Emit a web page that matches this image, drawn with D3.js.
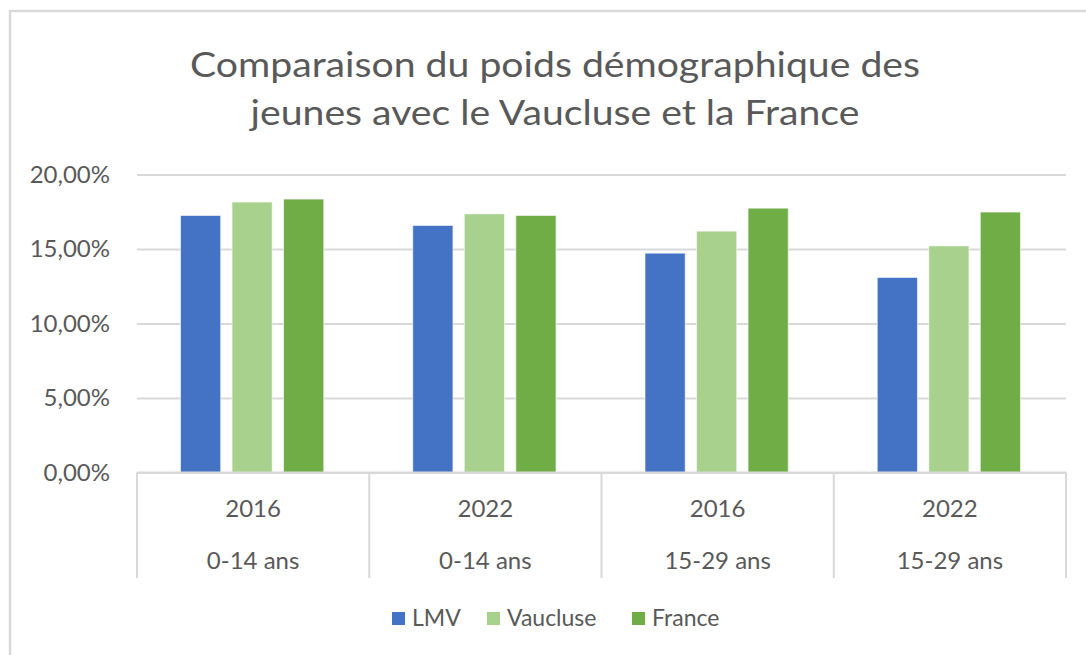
<!DOCTYPE html>
<html>
<head>
<meta charset="utf-8">
<script src="https://cdn.jsdelivr.net/npm/d3@7"></script>
<style>
  body { margin: 0; background: #fff; }
  text { font-family: Lato, "Open Sans", sans-serif; fill: #595959; }
</style>
</head>
<body>
<svg id="chart" width="1086" height="655"></svg>
<script>
// data
var years = ["2016", "2022", "2016", "2022"];
var ages = ["0-14 ans", "0-14 ans", "15-29 ans", "15-29 ans"];
var seriesNames = ["LMV", "Vaucluse", "France"];
var lmv = [17.25, 16.58, 14.72, 13.09];
var vaucluse = [18.15, 17.36, 16.20, 15.21];
var france = [18.35, 17.25, 17.74, 17.48];
var yTicks = [0, 5, 10, 15, 20];
var colors = ["#4472c4", "#a9d18e", "#70ad47"];

var values = [lmv, vaucluse, france];
var cats = d3.range(years.length);

var svg = d3.select("#chart");

// chart border (right and bottom edges are cut off in the reference)
svg.append("rect")
  .attr("x", 10).attr("y", 11)
  .attr("width", 1200).attr("height", 800)
  .attr("fill", "none")
  .attr("stroke", "#d9d9d9")
  .attr("stroke-width", 2.5);

// title is a bit wider than Lato, stretch it horizontally
var title = svg.append("text")
  .attr("text-anchor", "middle")
  .attr("font-size", 35)
  .attr("transform", "translate(555,0) scale(1.12,1)");
title.append("tspan").attr("x", 0).attr("y", 77)
  .text("Comparaison du poids démographique des");
title.append("tspan").attr("x", 0).attr("dy", 48)
  .text("jeunes avec le Vaucluse et la France");

var x0 = d3.scaleBand().domain(cats).range([137, 1066]).padding(0);
var x1 = d3.scaleBand().domain(seriesNames)
  .range([43.5, x0.bandwidth() - 45.5])
  .paddingInner(0.22).paddingOuter(0);
var y = d3.scaleLinear().domain([0, 20]).range([472.5, 174.5]);

// gridlines
svg.append("g")
  .attr("transform", "translate(137,0)")
  .call(d3.axisLeft(y).tickValues(yTicks).tickSize(-929).tickFormat(""))
  .call(function(g) { g.select(".domain").remove(); })
  .selectAll("line")
  .attr("stroke", "#d9d9d9")
  .attr("stroke-width", 2);

// y labels
svg.append("g")
  .attr("transform", "translate(137,0)")
  .call(d3.axisLeft(y).tickValues(yTicks).tickSize(0).tickPadding(27)
    .tickFormat(function(d) { return d.toFixed(2).replace(".", ",") + "%"; }))
  .call(function(g) { g.select(".domain").remove(); })
  .selectAll("text")
  .attr("font-size", 24)
  .attr("fill", "#595959")
  .style("font-family", "Lato, sans-serif");

// bars
var groups = svg.append("g").selectAll("g")
  .data(cats)
  .join("g")
  .attr("transform", function(c) { return "translate(" + x0(c) + ",0)"; });

groups.selectAll("rect")
  .data(function(c) {
    return seriesNames.map(function(s, i) { return {s: s, i: i, v: values[i][c]}; });
  })
  .join("rect")
  .attr("x", function(d) { return x1(d.s); })
  .attr("y", function(d) { return y(d.v); })
  .attr("width", x1.bandwidth())
  .attr("height", function(d) { return y(0) - y(d.v); })
  .attr("fill", function(d) { return colors[d.i]; })
  .attr("stroke", "#ffffff")
  .attr("stroke-opacity", 0.6)
  .attr("stroke-width", 1);

// category dividers below the axis
var bounds = cats.map(function(c) { return x0(c); }).concat([x0.range()[1]]);
svg.append("g").selectAll("line")
  .data(bounds)
  .join("line")
  .attr("x1", function(d) { return d; })
  .attr("x2", function(d) { return d; })
  .attr("y1", 472.5)
  .attr("y2", 578)
  .attr("stroke", "#d9d9d9")
  .attr("stroke-width", 2);

svg.append("line")
  .attr("x1", 137).attr("x2", 1066)
  .attr("y1", y(0)).attr("y2", y(0))
  .attr("stroke", "#d9d9d9")
  .attr("stroke-width", 2);

// two-level category labels
var lab = svg.append("g").selectAll("g")
  .data(cats)
  .join("g")
  .attr("transform", function(c) { return "translate(" + (x0(c) + x0.bandwidth() / 2) + ",0)"; });
lab.append("text")
  .attr("text-anchor", "middle")
  .attr("y", 517)
  .attr("font-size", 24)
  .text(function(c) { return years[c]; });
lab.append("text")
  .attr("text-anchor", "middle")
  .attr("y", 569)
  .attr("font-size", 24)
  .text(function(c) { return ages[c]; });

// legend
var legendX = [392, 487, 632];
var leg = svg.append("g").selectAll("g")
  .data(seriesNames)
  .join("g")
  .attr("transform", function(d, i) { return "translate(" + legendX[i] + ",612)"; });
leg.append("rect")
  .attr("width", 13).attr("height", 13)
  .attr("fill", function(d, i) { return colors[i]; });
leg.append("text")
  .attr("x", 20)
  .attr("y", 14)
  .attr("font-size", 23)
  .text(function(d) { return d; });
</script>
</body>
</html>
